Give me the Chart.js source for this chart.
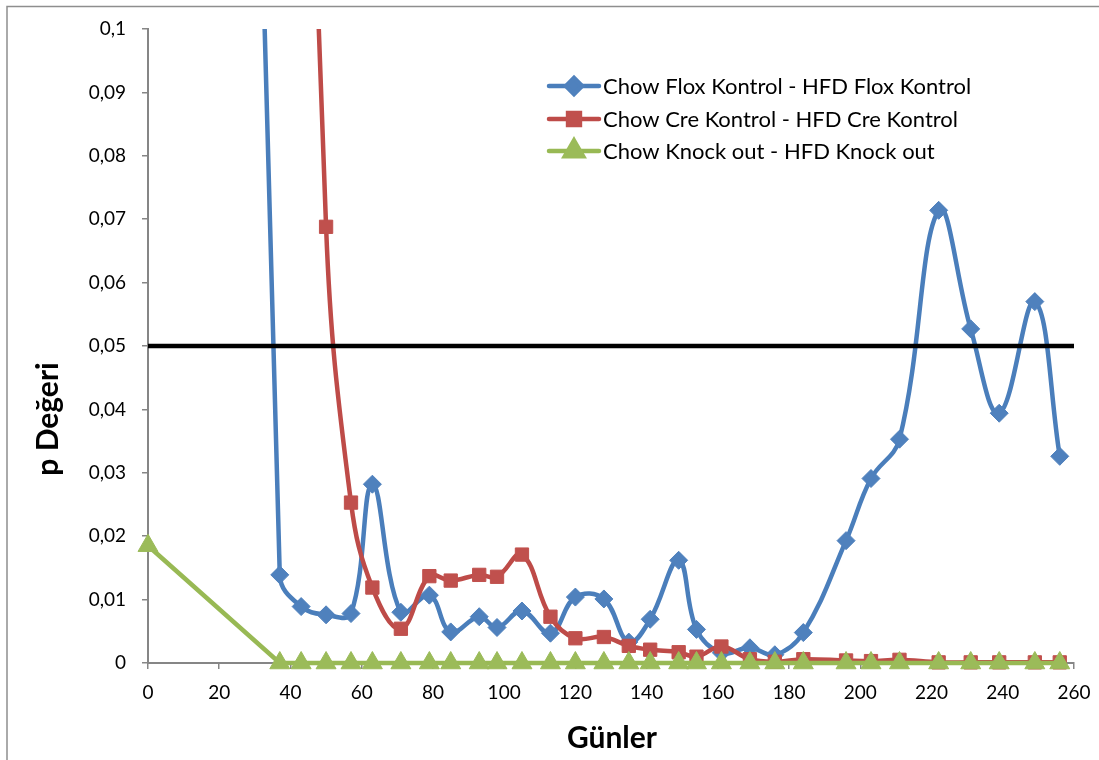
<!DOCTYPE html>
<html lang="tr">
<head>
<meta charset="UTF-8">
<title>p Değeri - Günler</title>
<script src="https://cdn.jsdelivr.net/npm/chart.js@4.4.1/dist/chart.umd.min.js"></script>
<style>
    html, body { margin: 0; padding: 0; background: #fff; }
    #grafico-container { width: 1099px; height: 760px; }
</style>
</head>
<body>
<div id="grafico-container"><canvas id="graficoLinhas" width="1099" height="760"></canvas></div>
<script>
// Dados (dias e valores p)
const dias = [0, 37, 43, 50, 57, 63, 71, 79, 85, 93, 98, 105, 113, 120, 128, 135, 141, 149, 154, 161, 169, 176, 184, 196, 203, 211, 222, 231, 239, 249, 256];
const floxKontrol = [0.8, 0.0139, 0.0089, 0.0076, 0.0078, 0.0282, 0.0080, 0.0107, 0.0049, 0.0073, 0.0056, 0.0082, 0.0047, 0.0104, 0.0101, 0.0033, 0.0069, 0.0162, 0.0053, 0.0016, 0.0024, 0.0013, 0.0048, 0.0193, 0.0291, 0.0353, 0.0714, 0.0527, 0.0394, 0.0570, 0.0326];
const creKontrol = [0.85, null, null, 0.0688, 0.0253, 0.0119, 0.0054, 0.0137, 0.0130, 0.0139, 0.0136, 0.0171, 0.0073, 0.0039, 0.0041, 0.0027, 0.0021, 0.0017, 0.0010, 0.0026, 0.0006, 0.0002, 0.0006, 0.0004, 0.0003, 0.0005, 0.0001, 0.0001, 0.0001, 0.0001, 0.0001];
const knockOut = [0.0185, 0, 0, 0, 0, 0, 0, 0, 0, 0, 0, 0, 0, 0, 0, 0, 0, 0, 0, 0, 0, 0, 0, 0, 0, 0, 0, 0, 0, 0, 0];
const limiteP = 0.05;

const nomesSeries = ['Chow Flox Kontrol - HFD Flox Kontrol', 'Chow Cre Kontrol - HFD Cre Kontrol', 'Chow Knock out - HFD Knock out'];
const eixoX = { min: 0, max: 260, passo: 20, titulo: 'Günler' };
const eixoY = { min: 0, max: 0.1, passo: 0.01, titulo: 'p Değeri' };

const fonte = 'Lato, "Open Sans", sans-serif';
const corEixo = '#868686';

// Função para montar os pontos {x, y} de uma série
function montarPontos(valores) {
    return dias.map((dia, i) => ({ x: dia, y: valores[i] }));
}

// Fundo branco e borda da área do gráfico
const fundoPlugin = {
    id: 'fundo',
    beforeDraw(chart) {
        const ctx = chart.ctx;
        ctx.save();
        ctx.fillStyle = '#fff';
        ctx.fillRect(0, 0, chart.width, chart.height);
        ctx.strokeStyle = '#8e8e8e';
        ctx.lineWidth = 1.5;
        ctx.strokeRect(7, 6.5, chart.width + 50, chart.height + 50);
        ctx.restore();
    }
};

// Legenda e títulos dos eixos desenhados à mão
const legendaPlugin = {
    id: 'legendaTitulos',
    afterDraw(chart) {
        const ctx = chart.ctx;
        ctx.save();

        const linhas = [86, 119, 151];
        [3, 2, 1].forEach((idx, i) => {
            const ds = chart.data.datasets[idx];
            const y = linhas[i];
            ctx.strokeStyle = ds.borderColor;
            ctx.lineWidth = 4.5;
            ctx.lineCap = 'round';
            ctx.beginPath();
            ctx.moveTo(549, y);
            ctx.lineTo(599, y);
            ctx.stroke();
            ctx.fillStyle = ds.pointBackgroundColor;
            ctx.strokeStyle = ds.pointBackgroundColor;
            Chart.helpers.drawPoint(ctx, { pointStyle: ds.pointStyle, radius: ds.pointRadius - 1, rotation: 0, borderWidth: 1 }, 574, y);
            ctx.fillStyle = '#000';
            ctx.font = '22px ' + fonte;
            ctx.textBaseline = 'middle';
            ctx.textAlign = 'left';
            ctx.fillText(nomesSeries[i], 603, y + 1);
        });

        ctx.font = 'bold 30px ' + fonte;
        ctx.textAlign = 'center';
        ctx.textBaseline = 'alphabetic';
        ctx.fillText(eixoX.titulo, 612, 748);

        ctx.translate(58, 419);
        ctx.rotate(-Math.PI / 2);
        ctx.fillText(eixoY.titulo, 0, 0);
        ctx.restore();
    }
};

// Função para criar o gráfico de linhas
function criarGrafico() {
    const ctx = document.getElementById('graficoLinhas').getContext('2d');
    return new Chart(ctx, {
        type: 'line',
        data: {
            datasets: [
                {
                    label: 'limite',
                    data: [{ x: eixoX.min, y: limiteP }, { x: eixoX.max, y: limiteP }],
                    borderColor: '#000',
                    borderWidth: 4.5,
                    pointRadius: 0,
                    tension: 0,
                    order: 0
                },
                {
                    label: nomesSeries[2],
                    data: montarPontos(knockOut),
                    borderColor: '#98B954',
                    pointBackgroundColor: '#9BBB59',
                    pointBorderColor: '#9BBB59',
                    pointStyle: 'triangle',
                    pointRadius: 11.5,
                    pointBorderWidth: 1,
                    borderWidth: 4.5,
                    tension: 0,
                    clip: false,
                    order: 1
                },
                {
                    label: nomesSeries[1],
                    data: montarPontos(creKontrol),
                    borderColor: '#BE4B48',
                    pointBackgroundColor: '#C0504D',
                    pointBorderColor: '#C0504D',
                    pointStyle: 'rect',
                    pointRadius: 9.4,
                    pointBorderWidth: 1,
                    borderWidth: 4.5,
                    tension: 0.4,
                    spanGaps: true,
                    clip: { left: 20, top: 0, right: 20, bottom: 20 },
                    order: 2
                },
                {
                    label: nomesSeries[0],
                    data: montarPontos(floxKontrol),
                    borderColor: '#4A7EBB',
                    pointBackgroundColor: '#4F81BD',
                    pointBorderColor: '#4F81BD',
                    pointStyle: 'rectRot',
                    pointRadius: 9,
                    pointBorderWidth: 1,
                    borderWidth: 4.5,
                    tension: 0.4,
                    clip: { left: 20, top: 0, right: 20, bottom: 20 },
                    order: 3
                }
            ]
        },
        options: {
            responsive: false,
            animation: false,
            devicePixelRatio: 1,
            layout: { padding: { left: 0, top: 29, right: 25, bottom: 0 } },
            elements: { line: { capBezierPoints: false } },
            plugins: {
                legend: { display: false },
                tooltip: { enabled: false },
                title: { display: false }
            },
            scales: {
                x: {
                    type: 'linear',
                    min: eixoX.min,
                    max: eixoX.max,
                    ticks: { stepSize: eixoX.passo, color: '#000', font: { family: fonte, size: 19 }, padding: 12, maxRotation: 0 },
                    grid: { drawOnChartArea: false, drawTicks: true, tickLength: 6, color: corEixo, lineWidth: 1.5 },
                    border: { color: corEixo, width: 2 },
                    afterFit: function(scale) {
                        scale.height = 97;
                        scale.paddingRight = 0;
                        scale.paddingLeft = 0;
                    }
                },
                y: {
                    type: 'linear',
                    min: eixoY.min,
                    max: eixoY.max,
                    ticks: {
                        stepSize: eixoY.passo,
                        color: '#000',
                        font: { family: fonte, size: 19 },
                        padding: 16,
                        callback: function(valor) {
                            return String(Math.round(valor * 100) / 100).replace('.', ',');
                        }
                    },
                    grid: { drawOnChartArea: false, drawTicks: true, tickLength: 6, color: corEixo, lineWidth: 1.5 },
                    border: { color: corEixo, width: 2 },
                    afterFit: function(scale) { scale.width = 148; }
                }
            }
        },
        plugins: [fundoPlugin, legendaPlugin]
    });
}

window.onload = function() {
    criarGrafico();
};
</script>
</body>
</html>
